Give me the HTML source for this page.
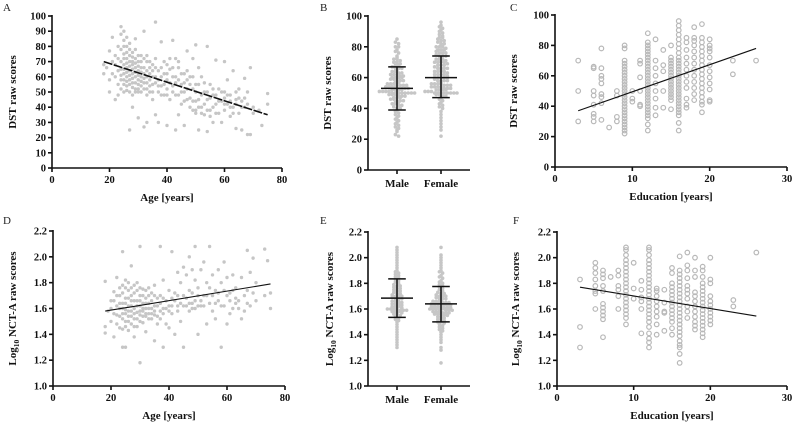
<!DOCTYPE html>
<html><head><meta charset="utf-8">
<style>
body{margin:0;background:#fff;}
svg{display:block;font-family:"Liberation Serif",serif;}
.t{font-size:10.5px;font-weight:bold;fill:#111;}
.ti{font-size:11px;font-weight:bold;fill:#111;}
.pl{font-size:11px;fill:#222;}
</style></head>
<body>
<svg id="fig" width="793" height="424" viewBox="0 0 793 424" xmlns="http://www.w3.org/2000/svg"></svg>
<script>
// ---- Data ----
const ageDst = [18,62,18,68,20,77,20,50,21,70,21,86,22,45,22,60,23,55,23,80,23,72,24,93,24,88,24,65,24,58,24,52,25,90,25,84,25,75,25,68,25,62,25,55,25,50,26,80,26,72,26,66,26,60,26,54,27,78,27,70,27,64,27,58,27,25,27,50,28,73,28,68,28,62,28,56,28,40,29,72,29,66,29,60,29,52,29,85,30,70,30,64,30,58,30,50,30,33,31,74,31,66,31,60,31,54,32,62,32,56,32,90,32,27,33,70,33,60,33,52,33,30,34,66,34,58,34,50,35,64,35,55,35,45,36,96,36,72,36,60,36,35,37,58,37,50,37,30,38,83,38,66,38,54,39,70,39,48,40,62,40,52,40,28,41,65,41,45,42,84,42,60,42,50,43,56,43,25,43,72,44,66,44,48,44,35,45,55,45,42,46,62,46,50,46,28,47,77,47,58,47,45,48,60,48,40,49,72,49,52,49,38,50,81,50,55,50,36,51,66,51,45,51,25,52,60,52,40,53,50,53,35,54,80,54,45,54,24,55,55,55,38,56,48,56,30,57,71,57,42,58,52,58,36,59,44,59,30,60,70,60,50,60,38,61,58,61,42,62,48,62,34,63,64,63,40,64,45,64,26,65,52,65,36,66,44,66,25,67,59,67,40,68,50,68,22,69,66,69,22,70,40,72,38,73,28,75,49,75,42];
const ageDstExtra = [19,66,20,58,21,62,22,74,22,68,23,64,23,48,24,78,24,70,24,61,25,80,25,72,25,65,25,58,26,86,26,76,26,69,26,63,26,57,26,51,27,82,27,74,27,67,27,61,27,55,28,76,28,70,28,65,28,59,28,53,28,48,29,78,29,69,29,63,29,56,29,50,30,74,30,67,30,61,30,55,30,52,31,70,31,63,31,57,31,50,32,72,32,66,32,59,32,52,33,74,33,64,33,56,33,48,34,70,34,62,34,54,35,68,35,60,35,50,36,66,36,56,37,64,37,54,38,60,38,48,39,62,39,55,40,68,40,58,40,48,41,56,41,72,42,66,42,54,43,60,43,48,44,58,44,70,45,62,45,50,46,56,46,44,47,52,47,64,48,55,48,46,49,60,49,44,50,50,50,44,50,38,51,55,51,40,52,48,52,36,53,56,53,42,54,50,54,38,55,46,55,34,56,52,56,40,57,48,57,36,58,44,59,50,60,46,60,42,61,48,62,44,62,40,63,36,64,50,64,42,65,46,66,40,67,46,68,42,70,36];
const ageDstFit = [18,70,75,35];
const ageNct = [18,1.81,18,1.46,18,1.41,19,1.58,20,1.66,20,1.50,21,1.73,21,1.38,22,1.84,22,1.55,22,1.62,23,1.70,23,1.45,23,1.60,24,2.04,24,1.78,24,1.64,24,1.56,24,1.30,25,1.82,25,1.68,25,1.59,25,1.50,25,1.30,26,1.74,26,1.62,26,1.54,26,1.43,27,1.93,27,1.76,27,1.66,27,1.58,27,1.48,28,1.72,28,1.60,28,1.52,28,1.38,29,1.80,29,1.66,29,1.57,29,1.46,30,2.08,30,1.70,30,1.62,30,1.55,30,1.18,31,1.75,31,1.64,31,1.58,31,1.49,32,1.68,32,1.60,32,1.54,32,1.42,33,1.76,33,1.64,33,1.56,34,1.72,34,1.60,34,1.52,35,1.78,35,1.62,35,1.55,35,1.35,36,1.68,36,1.48,37,2.08,37,1.70,37,1.58,38,1.82,38,1.60,38,1.30,39,1.66,39,1.48,40,1.74,40,1.62,40,1.45,41,2.04,41,1.68,41,1.56,42,1.72,42,1.40,43,1.88,43,1.62,44,1.80,44,1.50,45,1.92,45,1.70,45,1.30,46,1.86,46,1.62,47,2.00,47,1.74,47,1.58,48,1.90,48,1.64,49,2.08,49,1.82,49,1.60,50,1.76,50,1.40,51,1.90,51,1.62,52,1.96,52,1.70,53,1.80,53,1.48,54,2.08,54,1.64,55,1.86,55,1.58,56,1.74,56,1.52,57,1.90,57,1.66,58,1.80,58,1.30,59,1.96,59,1.62,60,1.84,60,1.48,61,1.72,61,1.56,62,1.86,62,1.60,63,1.76,63,1.64,64,1.66,65,1.84,65,1.52,66,1.58,67,2.05,67,1.74,68,1.88,68,1.62,69,1.99,70,1.80,73,2.06,73,1.70,74,1.97,75,1.72,75,1.60];
const ageNctExtra = [20,1.60,21,1.56,21,1.66,22,1.70,22,1.48,23,1.76,23,1.54,23,1.64,24,1.72,24,1.60,24,1.52,24,1.44,25,1.76,25,1.64,25,1.56,25,1.46,26,1.80,26,1.68,26,1.58,26,1.50,27,1.70,27,1.62,27,1.54,28,1.78,28,1.66,28,1.56,28,1.46,29,1.74,29,1.62,29,1.52,30,1.76,30,1.66,30,1.58,30,1.50,31,1.70,31,1.60,31,1.54,32,1.74,32,1.64,32,1.56,33,1.70,33,1.60,33,1.52,34,1.66,34,1.56,35,1.70,35,1.58,36,1.62,36,1.54,37,1.64,37,1.52,38,1.68,38,1.56,39,1.60,40,1.58,41,1.62,42,1.66,43,1.58,43,1.70,44,1.64,45,1.62,46,1.68,47,1.64,48,1.72,48,1.60,49,1.66,50,1.62,50,1.70,51,1.66,52,1.62,53,1.70,54,1.76,55,1.70,56,1.64,57,1.72,58,1.62,59,1.74,60,1.70,61,1.66,62,1.74,63,1.68,64,1.60,66,1.70,67,1.64,69,1.72,70,1.66];
const ageNctFit = [18,1.58,75,1.79];
const eduLevels = [3,5,6,7,8,9,10,11,12,13,14,15,16,17,18,19,20,23,26];
const eduDst = [[70,50,30],[66,65,50,47,41,35,33,30],[78,65,60,58,55,48,46,42,31],[26],[50,47,33,30],[80,78,70,68,66,64,62,60,58,56,54,52,50,48,46,44,42,40,38,36,34,32,30,28,26,24,22],[50,45,43],[70,68,59,50,41,40],[88,82,80,78,76,74,72,70,68,66,64,62,60,58,56,54,52,50,48,46,44,42,40,38,36,34,32,28,24],[84,70,65,60,55,50,45,39,34],[77,67,63,50,39],[80,72,70,68,66,64,62,60,58,56,54,52,50,48,46,44,38],[96,93,90,87,84,81,78,75,72,70,68,66,64,62,60,58,56,54,52,50,48,46,44,42,40,38,36,34,29,24],[85,82,77,72,68,64,60,56,52,45,41,39],[92,85,83,80,76,72,68,64,60,56,52,48,44],[94,85,82,79,76,73,70,67,64,61,58,55,52,49,46,43,41,36],[84,80,78,76,72,67,63,59,55,51,44,43],[70,61],[70]];
const eduDstFit = [3,37,26,78];
const eduNct = [[1.83,1.46,1.30],[1.96,1.92,1.88,1.83,1.78,1.74,1.72,1.60],[1.90,1.87,1.84,1.78,1.74,1.64,1.61,1.58,1.55,1.52,1.38],[1.85],[1.90,1.86,1.78,1.75,1.70,1.60],[2.08,2.06,2.02,1.98,1.95,1.92,1.89,1.86,1.83,1.80,1.77,1.74,1.71,1.68,1.65,1.62,1.59,1.56,1.53,1.48],[1.96,1.76,1.68],[1.82,1.75,1.69,1.66,1.60,1.41],[2.08,2.06,2.02,1.98,1.95,1.92,1.89,1.86,1.83,1.80,1.77,1.74,1.71,1.68,1.65,1.62,1.59,1.56,1.53,1.50,1.46,1.41,1.37,1.34,1.30],[1.76,1.74,1.70,1.66,1.62,1.58,1.54,1.48,1.40],[1.75,1.65,1.58,1.57,1.43],[1.92,1.88,1.80,1.77,1.74,1.71,1.68,1.65,1.62,1.59,1.56,1.53,1.50,1.45,1.40],[2.01,1.90,1.87,1.84,1.81,1.78,1.75,1.72,1.69,1.66,1.63,1.60,1.57,1.54,1.51,1.48,1.45,1.42,1.39,1.35,1.32,1.30,1.25,1.18],[2.04,1.94,1.90,1.84,1.78,1.75,1.72,1.68,1.62,1.58,1.53],[2.00,1.90,1.85,1.73,1.70,1.66,1.62,1.58,1.54,1.50,1.47,1.44],[1.93,1.90,1.85,1.80,1.77,1.74,1.71,1.68,1.65,1.62,1.59,1.56,1.53,1.50,1.47,1.44,1.41,1.38],[2.00,1.83,1.80,1.70,1.66,1.63,1.60,1.57,1.54,1.51,1.48],[1.67,1.62],[2.04]];
const eduNctFit = [3,1.77,26,1.545];
const sexCategories = ["Male","Female"];
const maleDst = [85,83,82,80,80,78,77,76,74,73,72,72,71,70,70,69,68,68,67,66,66,66,65,64,64,63,63,62,62,62,61,61,60,60,60,60,59,59,58,58,58,57,57,56,56,56,55,55,55,55,54,54,54,54,53,53,53,53,52,52,52,52,51,51,51,51,50,50,50,50,50,50,50,50,49,49,49,48,48,48,47,47,47,46,46,45,45,45,44,44,43,43,42,42,41,40,40,39,38,37,36,35,34,33,32,31,30,29,28,27,26,25,23,22];
const femaleDst = [96,94,93,92,91,90,89,88,87,86,86,85,84,84,83,82,82,81,80,80,80,79,78,78,78,77,76,76,76,75,74,74,74,73,72,72,72,71,70,70,70,70,69,68,68,68,67,66,66,66,66,65,64,64,64,64,63,62,62,62,62,61,60,60,60,60,60,59,58,58,58,58,57,56,56,56,56,55,55,55,54,54,54,54,53,53,53,52,52,52,52,51,51,51,50,50,50,50,50,50,50,50,49,49,48,48,47,46,45,44,43,42,41,40,38,36,34,32,30,28,26,22];
const sexDstMean = [53,60];
const sexDstSdLow = [39,47];
const sexDstSdHigh = [67,74];
const maleNct = [2.08,2.06,2.04,2.02,2.00,1.98,1.96,1.94,1.92,1.90,1.89,1.88,1.87,1.86,1.85,1.84,1.83,1.82,1.81,1.80,1.79,1.78,1.78,1.77,1.76,1.76,1.75,1.74,1.74,1.73,1.72,1.72,1.71,1.70,1.70,1.70,1.69,1.68,1.68,1.68,1.67,1.66,1.66,1.66,1.65,1.64,1.64,1.64,1.63,1.62,1.62,1.62,1.61,1.60,1.60,1.60,1.60,1.59,1.59,1.59,1.58,1.58,1.58,1.57,1.56,1.56,1.55,1.54,1.53,1.52,1.51,1.50,1.48,1.46,1.44,1.42,1.40,1.38,1.36,1.34,1.32,1.30];
const femaleNct = [2.08,2.02,2.00,1.98,1.96,1.94,1.92,1.90,1.89,1.88,1.86,1.85,1.84,1.82,1.81,1.80,1.79,1.78,1.77,1.76,1.75,1.74,1.73,1.72,1.72,1.71,1.70,1.70,1.70,1.69,1.68,1.68,1.68,1.67,1.66,1.66,1.66,1.65,1.65,1.65,1.64,1.64,1.64,1.64,1.63,1.63,1.63,1.62,1.62,1.62,1.62,1.61,1.61,1.61,1.60,1.60,1.60,1.60,1.60,1.59,1.59,1.59,1.58,1.58,1.58,1.57,1.57,1.57,1.56,1.56,1.56,1.55,1.55,1.54,1.54,1.53,1.52,1.52,1.51,1.50,1.50,1.49,1.48,1.47,1.46,1.45,1.44,1.43,1.42,1.40,1.38,1.36,1.34,1.30,1.28,1.18];
const sexNctMean = [1.685,1.64];
const sexNctSdLow = [1.535,1.50];
const sexNctSdHigh = [1.835,1.775];

// ---- Drawing ----
const NS = "http://www.w3.org/2000/svg";
const svg = document.getElementById('fig');
function mk(tag, attrs, parent){const e=document.createElementNS(NS,tag);for(const k in attrs)e.setAttribute(k,attrs[k]);(parent||svg).appendChild(e);return e;}
function txt(x,y,s,cls,anchor,parent){const e=mk('text',{x:x,y:y,class:cls,'text-anchor':anchor||'middle'},parent);e.textContent=s;return e;}

function panel(cfg){
  const g=mk('g',{});
  
  
  const sx=v=>cfg.x0+(v-cfg.xmin)/(cfg.xmax-cfg.xmin)*(cfg.x1-cfg.x0);
  const sy=v=>cfg.y0-(v-cfg.ymin)/(cfg.ymax-cfg.ymin)*(cfg.y0-cfg.y1);
  const L=txt(cfg.lx,cfg.ly,cfg.letter,'pl','start',g);
  
  
  const mg=mk('g',{},g);
  
  
  cfg.draw(mg,sx,sy);
  const ax=mk('g',{stroke:'#111','stroke-width':1.6,fill:'none'},g);
  
  
  mk('line',{x1:cfg.x0,y1:cfg.y1-1,x2:cfg.x0,y2:cfg.y0},ax);
  mk('line',{x1:cfg.x0,y1:cfg.y0,x2:cfg.xend||cfg.x1,y2:cfg.y0},ax);
  for(let v=cfg.ymin;v<=cfg.ymax+1e-9;v+=cfg.ystep){
    const y=sy(v);
    mk('line',{x1:cfg.x0-4,y1:y,x2:cfg.x0,y2:y},ax);
    const t=txt(cfg.x0-6,y+3.5,cfg.yfmt(v),'t','end',g);
    
    
  }
  if(cfg.cats){
    cfg.cats.forEach((c,i)=>{
      const x=cfg.catX[i];
      mk('line',{x1:x,y1:cfg.y0,x2:x,y2:cfg.y0+4},ax);
      const t=txt(x,cfg.y0+17,c,'ti','middle',g);
      
      
    });
  } else {
    for(let v=cfg.xmin;v<=cfg.xmax+1e-9;v+=cfg.xstep){
      const x=sx(v);
      mk('line',{x1:x,y1:cfg.y0,x2:x,y2:cfg.y0+4},ax);
      const t=txt(x,cfg.y0+15,String(v),'t','middle',g);
      
      
    }
    const xt=txt((cfg.x0+cfg.x1)/2,cfg.y0+33,cfg.xtitle,'ti','middle',g);
    
    
  }
  const cy=(cfg.y0+cfg.y1)/2;
  const yt=mk('text',{x:0,y:0,class:'ti','text-anchor':'middle',transform:`translate(${cfg.ytx},${cy}) rotate(-90)`},g);
  
  
  if(cfg.log){
    yt.innerHTML='Log<tspan dy="3" font-size="7.5">10</tspan><tspan dy="-3"> NCT-A raw scores</tspan>';
  } else yt.textContent=cfg.ytitle;
}

function dots(pairs,sx,sy,g){
  for(let i=0;i<pairs.length;i+=2){
    const c=mk('circle',{cx:sx(pairs[i]),cy:sy(pairs[i+1]),r:1.7,fill:'#c6c6c6'},g);
    
    
  }
}
function fit(f,sx,sy,g,dash){
  const l=mk('line',{x1:sx(f[0]),y1:sy(f[1]),x2:sx(f[2]),y2:sy(f[3]),stroke:'#111','stroke-width':dash?1.6:1.1},g);
  if(dash) l.setAttribute('stroke-dasharray','9 1.5');
  
  
}
function rings(levels,vals,sx,sy,g){
  levels.forEach((lv,i)=>vals[i].forEach(v=>{
    const c=mk('circle',{cx:sx(lv),cy:sy(v),r:2.3,fill:'none',stroke:'#b8b8b8','stroke-width':1.2},g);
    
    
  }));
}
function swarm(groups,xs,sy,g,mean,lo,hi,halfw){
  groups.forEach((vals,gi)=>{
    const bins={};
    vals.forEach(v=>{const b=Math.round(sy(v)/2.5);(bins[b]=bins[b]||[]).push(v);});
    for(const b in bins){
      const arr=bins[b];
      arr.forEach((v,k)=>{
        const off=(k-(arr.length-1)/2)*3.2;
        const c=mk('circle',{cx:xs[gi]+off,cy:sy(v),r:1.8,fill:'#c6c6c6'},g);
        
        
      });
    }
    const sg=mk('g',{stroke:'#111','stroke-width':1.5},g);
    
    
    mk('line',{x1:xs[gi],y1:sy(lo[gi]),x2:xs[gi],y2:sy(hi[gi])},sg);
    mk('line',{x1:xs[gi]-halfw,y1:sy(mean[gi]),x2:xs[gi]+halfw,y2:sy(mean[gi])},sg);
    mk('line',{x1:xs[gi]-halfw*0.55,y1:sy(lo[gi]),x2:xs[gi]+halfw*0.55,y2:sy(lo[gi])},sg);
    mk('line',{x1:xs[gi]-halfw*0.55,y1:sy(hi[gi]),x2:xs[gi]+halfw*0.55,y2:sy(hi[gi])},sg);
  });
}
const intf=v=>String(Math.round(v));
const decf=v=>v.toFixed(1);

panel({name:'panel-a-age-dst',letter:'A',lx:3,ly:11,x0:52,x1:282,y0:168,y1:16,xmin:0,xmax:80,xstep:20,ymin:0,ymax:100,ystep:10,yfmt:intf,xtitle:'Age [years]',ytitle:'DST raw scores',ytx:16,
  draw:(g,sx,sy)=>{dots(ageDst,sx,sy,g);dots(ageDstExtra,sx,sy,g);fit(ageDstFit,sx,sy,g,true);}});
panel({name:'panel-b-sex-dst',letter:'B',lx:320,ly:11,x0:368,x1:470,xend:470,y0:170,y1:16,xmin:0,xmax:1,ymin:0,ymax:100,ystep:20,yfmt:intf,cats:sexCategories,catX:[397,441],ytitle:'DST raw scores',ytx:331,
  draw:(g,sx,sy)=>{swarm([maleDst,femaleDst],[397,441],sy,g,sexDstMean,sexDstSdLow,sexDstSdHigh,16);}});
panel({name:'panel-c-education-dst',letter:'C',lx:510,ly:11,x0:555,x1:787,y0:167,y1:15,xmin:0,xmax:30,xstep:10,ymin:0,ymax:100,ystep:20,yfmt:intf,xtitle:'Education [years]',ytitle:'DST raw scores',ytx:517,
  draw:(g,sx,sy)=>{rings(eduLevels,eduDst,sx,sy,g);fit(eduDstFit,sx,sy,g,false);}});
panel({name:'panel-d-age-nct',letter:'D',lx:3,ly:224,x0:53,x1:285,y0:386,y1:231,xmin:0,xmax:80,xstep:20,ymin:1.0,ymax:2.2,ystep:0.2,yfmt:decf,xtitle:'Age [years]',log:true,ytx:16,
  draw:(g,sx,sy)=>{dots(ageNct,sx,sy,g);dots(ageNctExtra,sx,sy,g);fit(ageNctFit,sx,sy,g,false);}});
panel({name:'panel-e-sex-nct',letter:'E',lx:320,ly:224,x0:368,x1:470,xend:470,y0:386,y1:232,xmin:0,xmax:1,ymin:1.0,ymax:2.2,ystep:0.2,yfmt:decf,cats:sexCategories,catX:[397,441],log:true,ytx:333,
  draw:(g,sx,sy)=>{swarm([maleNct,femaleNct],[397,441],sy,g,sexNctMean,sexNctSdLow,sexNctSdHigh,16);}});
panel({name:'panel-f-education-nct',letter:'F',lx:513,ly:224,x0:557,x1:787,y0:386,y1:232,xmin:0,xmax:30,xstep:10,ymin:1.0,ymax:2.2,ystep:0.2,yfmt:decf,xtitle:'Education [years]',log:true,ytx:519,
  draw:(g,sx,sy)=>{rings(eduLevels,eduNct,sx,sy,g);fit(eduNctFit,sx,sy,g,false);}});
</script>
</body></html>
